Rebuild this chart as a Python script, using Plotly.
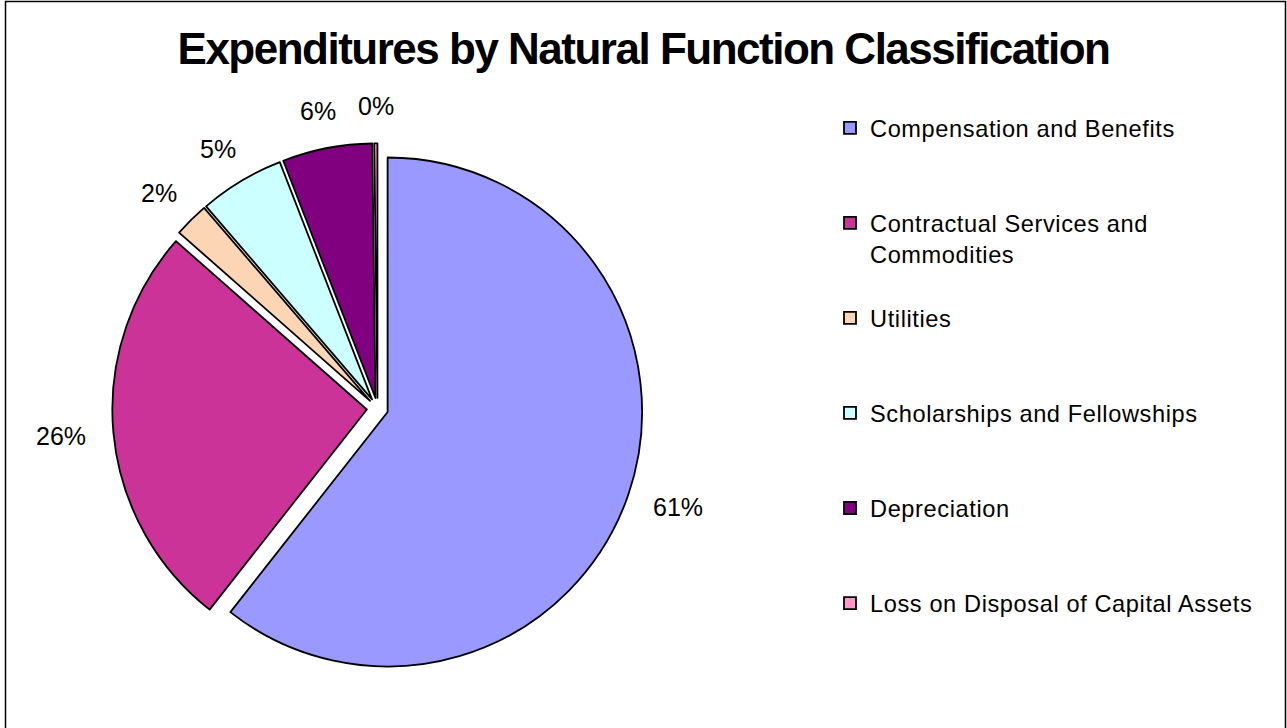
import math
import plotly.graph_objects as go

# ---- data ----
categories = [
    "Compensation and Benefits",
    "Contractual Services and Commodities",
    "Utilities",
    "Scholarships and Fellowships",
    "Depreciation",
    "Loss on Disposal of Capital Assets",
]
values = [60.6, 25.9, 2.2, 5.4, 5.7, 0.2]
colors = ["#9999FF", "#CC3399", "#FCD5B4", "#CCFFFF", "#800080", "#FF99CC"]
legend_lines = [
    ["Compensation and Benefits"],
    ["Contractual Services and", "Commodities"],
    ["Utilities"],
    ["Scholarships and Fellowships"],
    ["Depreciation"],
    ["Loss on Disposal of Capital Assets"],
]

W, H = 1287, 728
PULL = 0.042
LABEL_FS = 25
LEGEND_FS = 23.6

# legend labels padded with blank lines so items are spaced like the original
legend_labels = []
for i, lines in enumerate(legend_lines):
    pad = 0 if i == len(legend_lines) - 1 else max(0, 3 - len(lines))
    styled = ['<span style="letter-spacing:0.6px">' + t + "</span>" for t in lines]
    legend_labels.append("<br>".join(styled + [" "] * pad))

# pie domain (paper)
dom_x = [112.3 / W, 642.7 / W]
dom_y = [1 - 673.7 / H, 1 - 143.3 / H]

fig = go.Figure()
fig.add_trace(go.Pie(
    labels=legend_labels,
    values=values,
    customdata=categories,
    sort=False,
    direction="clockwise",
    rotation=0,
    pull=[PULL] * len(values),
    marker=dict(colors=colors, line=dict(color="black", width=1.8)),
    textinfo="none",
    hovertemplate="%{customdata}: %{percent}<extra></extra>",
    domain=dict(x=dom_x, y=dom_y),
))

# outside percentage labels, placed from the slice angles
cx = W * (dom_x[0] + dom_x[1]) / 2
cy = H * (1 - (dom_y[0] + dom_y[1]) / 2)
r = min(W * (dom_x[1] - dom_x[0]), H * (dom_y[1] - dom_y[0])) / 2 / (1 + PULL)
total = sum(values)
cum = 0.0
annotations = []
for v in values:
    mid = (cum + v / 2) / total * 2 * math.pi
    cum += v
    pct = round(v / total * 100)
    txt = f"{pct}%"
    tw = LABEL_FS * (0.556 * len(str(pct)) + 0.889)
    th = LABEL_FS * 0.8
    rb = r * 1.15
    s, c = math.sin(mid), math.cos(mid)
    px = cx + rb * s + (tw / 2) * s
    py = cy - rb * c - (th / 2) * c
    annotations.append(dict(
        x=px / W, y=1 - py / H, xref="paper", yref="paper",
        text=txt, showarrow=False, xanchor="center", yanchor="middle",
        font=dict(family="Liberation Sans, Arial", size=LABEL_FS, color="black"),
    ))

fig.update_layout(
    width=W, height=H,
    margin=dict(l=0, r=0, t=0, b=0),
    paper_bgcolor="white",
    plot_bgcolor="white",
    title=dict(
        text='<span style="letter-spacing:-1.5px">Expenditures by Natural Function Classification</span>',
        x=0.5, xanchor="center", y=1 - 49 / H, yanchor="middle",
        font=dict(family="Liberation Sans, Arial", size=44,
                  color="black", weight="bold"),
    ),
    showlegend=True,
    legend=dict(
        x=830 / W, y=1 - 106 / H, xanchor="left", yanchor="top",
        font=dict(family="Liberation Sans, Arial", size=LEGEND_FS, color="black"),
        valign="top", traceorder="normal", bgcolor="rgba(0,0,0,0)",
    ),
    annotations=annotations,
    shapes=[dict(
        type="rect", xref="paper", yref="paper",
        x0=5.5 / W, x1=1285.5 / W, y0=-0.05, y1=1 - 1.5 / H,
        line=dict(color="black", width=1.5), fillcolor="rgba(0,0,0,0)",
    )],
)

fig.write_html(
    "out.html",
    config={"displayModeBar": False},
    post_script="document.body.style.margin='0px';document.body.style.padding='0px';",
)
